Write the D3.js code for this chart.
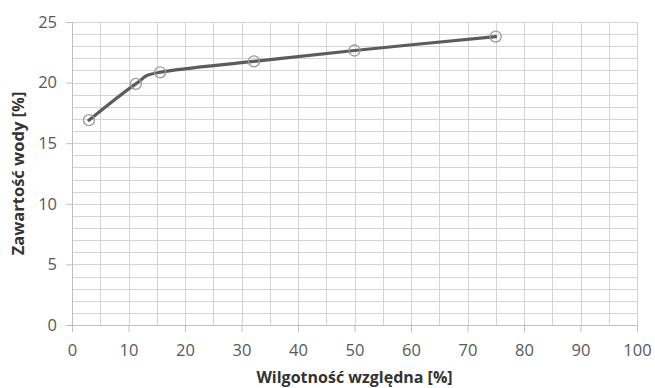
<!DOCTYPE html>
<html>
<head>
<meta charset="utf-8">
<script src="https://cdn.jsdelivr.net/npm/d3@7"></script>
<style>
  body { margin: 0; background: #fff; }
  text { font-family: "Open Sans", sans-serif; }
</style>
</head>
<body>
<div id="chart"></div>
<script>
// Data
const humidity = [3, 11.3, 15.6, 32.2, 50, 75];
const waterContent = [16.9, 19.9, 20.85, 21.75, 22.65, 23.8];
const xTicks = [0, 10, 20, 30, 40, 50, 60, 70, 80, 90, 100];
const yTicks = [0, 5, 10, 15, 20, 25];
const xTitle = "Wilgotność względna [%]";
const yTitle = "Zawartość wody [%]";

const W = 655, H = 388;
const margin = { top: 22, right: 18, bottom: 63, left: 72 };
const width = W - margin.left - margin.right;
const height = H - margin.top - margin.bottom;

const svg = d3.select("#chart")
    .append("svg")
    .attr("width", W)
    .attr("height", H)
    .append("g")
    .attr("transform", `translate(${margin.left},${margin.top})`);

const x = d3.scaleLinear().domain([0, 100]).range([0, width]);
const y = d3.scaleLinear().domain([0, 25]).range([height, 0]);

// Horizontal grid every 1 unit
svg.append("g")
    .selectAll("line")
    .data(d3.range(1, 26))
    .join("line")
    .attr("x1", 0).attr("x2", width)
    .attr("y1", d => Math.round(y(d)) + 0.5)
    .attr("y2", d => Math.round(y(d)) + 0.5)
    .attr("stroke", "#d4d4d4");

// Vertical grid every 5 units
svg.append("g")
    .selectAll("line")
    .data(d3.range(5, 101, 5))
    .join("line")
    .attr("x1", d => Math.round(x(d)) + 0.5)
    .attr("x2", d => Math.round(x(d)) + 0.5)
    .attr("y1", 0).attr("y2", height)
    .attr("stroke", "#d4d4d4");

// Axes
const xAxis = svg.append("g")
    .attr("transform", `translate(0,${height})`)
    .call(d3.axisBottom(x).tickValues(xTicks).tickSize(7).tickSizeOuter(0).tickPadding(12));

const yAxis = svg.append("g")
    .call(d3.axisLeft(y).tickValues(yTicks).tickSize(6).tickSizeOuter(0).tickPadding(9));

[xAxis, yAxis].forEach(g => {
    g.select(".domain").attr("stroke", "#bfbfbf");
    g.selectAll(".tick line").attr("stroke", "#bfbfbf");
    g.selectAll(".tick text")
        .attr("fill", "#595959")
        .style("font-size", "16.5px")
        .style("font-family", "'Open Sans', sans-serif");
});
xAxis.select(".domain").attr("d", `M-6,0.5H${width}`);

// Line (Excel-style smoothing)
const points = humidity.map((h, i) => ({ h, w: waterContent[i] }));
const line = d3.line()
    .x(d => x(d.h))
    .y(d => y(d.w))
    .curve(d3.curveCatmullRom.alpha(0));

svg.append("path")
    .datum(points)
    .attr("d", line)
    .attr("fill", "none")
    .attr("stroke", "#5c5c5c")
    .attr("stroke-width", 3.2)
    .attr("stroke-linecap", "round");

// Markers
svg.selectAll(".marker")
    .data(points)
    .join("circle")
    .attr("class", "marker")
    .attr("cx", d => x(d.h))
    .attr("cy", d => y(d.w))
    .attr("r", 5.5)
    .attr("fill", "none")
    .attr("stroke", "#9a9a9a")
    .attr("stroke-width", 1.3);

// Axis titles
svg.append("text")
    .attr("x", width / 2)
    .attr("y", height + 58)
    .attr("text-anchor", "middle")
    .style("font-size", "16px")
    .style("font-weight", "bold")
    .attr("fill", "#333")
    .text(xTitle);

svg.append("text")
    .attr("transform", `translate(${-48},${height / 2}) rotate(-90)`)
    .attr("text-anchor", "middle")
    .style("font-size", "16.5px")
    .style("font-weight", "bold")
    .attr("fill", "#333")
    .text(yTitle);
</script>
</body>
</html>
